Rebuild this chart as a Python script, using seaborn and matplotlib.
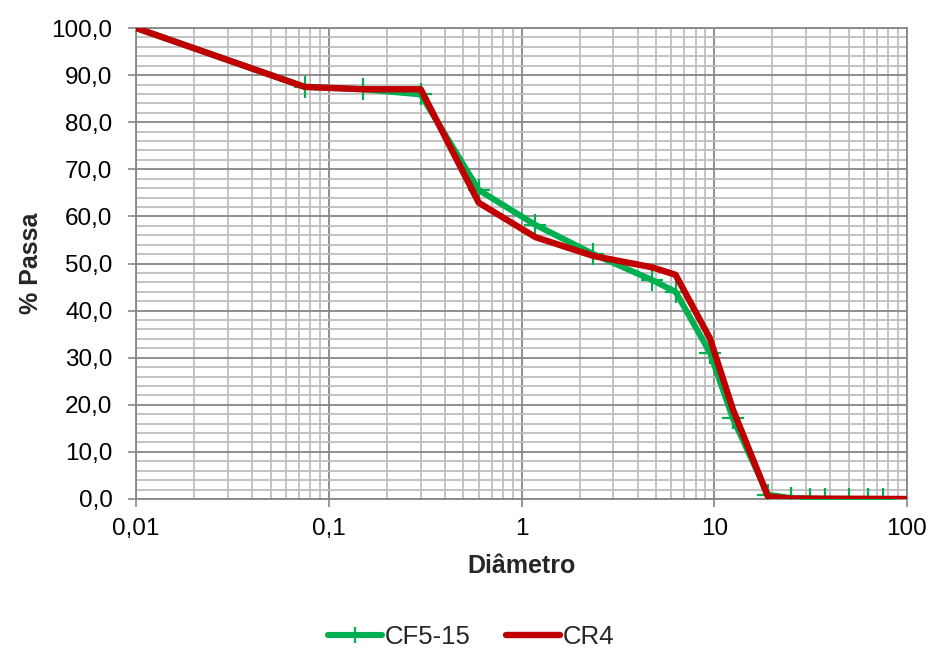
import matplotlib
matplotlib.use("Agg")
import matplotlib.pyplot as plt
import matplotlib.ticker as mticker
import seaborn as sns
import pandas as pd
import numpy as np

# ---- data ----
cf_diam = [0.01, 0.075, 0.15, 0.3, 0.6, 1.18, 2.36, 4.75, 6.3, 9.5, 12.5, 19, 25, 31.5, 37.5, 50, 63, 75]
cf_pass = [100.0, 87.5, 87.0, 85.9, 65.6, 58.2, 52.0, 46.5, 44.0, 31.1, 17.1, 0.9, 0.2, 0.1, 0.0, 0.0, 0.0, 0.0]
cr_diam = [0.01, 0.075, 0.15, 0.3, 0.6, 1.18, 2.36, 4.75, 6.3, 9.5, 12.5, 19, 25, 100]
cr_pass = [100.0, 87.5, 87.0, 87.0, 62.9, 55.6, 51.6, 49.2, 47.6, 34.1, 19.0, 0.5, 0.1, 0.0]
series_names = ["CF5-15", "CR4"]
series_colors = ["#00B050", "#C00000"]
x_ticks = [0.01, 0.1, 1, 10, 100]
x_ticklabels = ["0,01", "0,1", "1", "10", "100"]
y_ticks = list(range(0, 101, 10))
y_ticklabels = [f"{v},0" for v in y_ticks]

sns.set_theme(style="white")
plt.rcParams["font.family"] = ["Liberation Sans", "DejaVu Sans"]

fig = plt.figure(figsize=(9.33, 6.51), dpi=100)
ax = fig.add_axes([136 / 933, 1 - 499 / 651, (907 - 136) / 933, (499 - 28) / 651])

df_cf = pd.DataFrame({"x": cf_diam, "y": cf_pass})
df_cr = pd.DataFrame({"x": cr_diam, "y": cr_pass})

sns.lineplot(data=df_cf, x="x", y="y", ax=ax, color=series_colors[0], lw=4.4,
             marker="+", markersize=16, markeredgewidth=1.6,
             markeredgecolor=series_colors[0], markerfacecolor=series_colors[0],
             markevery=list(range(1, len(cf_diam))),
             label=series_names[0], zorder=3)
sns.lineplot(data=df_cr, x="x", y="y", ax=ax, color=series_colors[1], lw=4.6,
             label=series_names[1], zorder=4)
for l in ax.lines:
    l.set_solid_capstyle("round")
    l.set_solid_joinstyle("round")

ax.set_xscale("log")
ax.set_xlim(0.01, 100)
ax.set_ylim(0, 100)
ax.set_xticks(x_ticks)
ax.set_xticklabels(x_ticklabels)
ax.set_yticks(y_ticks)
ax.set_yticklabels(y_ticklabels)
ax.xaxis.set_minor_locator(mticker.LogLocator(base=10, subs=np.arange(2, 10)))
ax.xaxis.set_minor_formatter(mticker.NullFormatter())
ax.yaxis.set_minor_locator(mticker.MultipleLocator(2))

ax.grid(True, which="major", color="#878787", lw=1.3, zorder=0)
ax.grid(True, which="minor", color="#BEBEBE", lw=1.3, zorder=0)
ax.set_axisbelow(True)

ax.tick_params(axis="both", which="major", direction="out", length=6, width=1.2,
               color="#878787", labelsize=17.5, labelcolor="black", pad=8,
               bottom=True, left=True)
ax.tick_params(axis="y", which="major", pad=11)
ax.tick_params(axis="both", which="minor", length=0)
for s in ax.spines.values():
    s.set_color("#878787")
    s.set_linewidth(1.3)

ax.set_xlabel("Diâmetro", fontsize=18, fontweight="bold", labelpad=10)
ax.set_ylabel("% Passa", fontsize=18, fontweight="bold", labelpad=6)

ax.get_legend().remove()
handles, labels = ax.get_legend_handles_labels()
leg = fig.legend(handles, labels, loc="center", bbox_to_anchor=(0.505, 0.022), ncol=2,
                 frameon=False, fontsize=18.5, handlelength=2.1, handletextpad=0.1,
                 columnspacing=1.4, numpoints=1)
for h in leg.get_lines():
    h.set_markersize(11)

fig.savefig("out.png", dpi=100)
